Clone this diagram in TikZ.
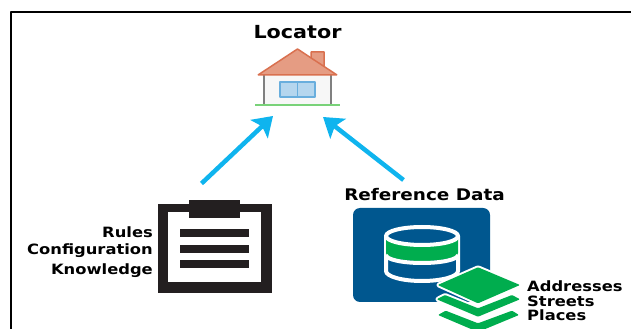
\documentclass[tikz,border=0pt]{standalone}
\usepackage{fontspec}
\setmainfont[FakeStretch=1.15]{DejaVu Sans}
\definecolor{arrowcyan}{HTML}{0FB4EE}
\definecolor{panelblue}{HTML}{00578F}
\definecolor{stackgreen}{HTML}{00AD4E}
\definecolor{roofred}{HTML}{E59C83}
\definecolor{roofedge}{HTML}{D9704F}
\definecolor{windowblue}{HTML}{B5D6EE}
\definecolor{windowedge}{HTML}{69AEDD}
\definecolor{clipblack}{HTML}{231F20}
\usetikzlibrary{arrows.meta}
\tikzset{
  labeltext/.style={inner sep=0pt,font=\bfseries\fontsize{14.2bp}{16bp}\selectfont},
  linkarrow/.style={draw=arrowcyan,line width=4.5bp,-{Stealth[length=19bp,width=25bp,inset=4bp]}},
  clipline/.style={fill=clipblack,draw=none},
  stacklayer/.style={fill=stackgreen,rounded corners=1bp,preaction={draw=white,line width=4bp,line join=round}},
  dbline/.style={white,line width=4bp},
}
\begin{document}
\begin{tikzpicture}[>=latex,line join=bevel,]
\useasboundingbox (0bp,0bp) rectangle (631bp,329bp);
%%
\draw [black,line width=2.5bp] (11bp,0bp) -- (11bp,317bp) -- (631bp,317bp);
%% house
\fill [black!3] (264bp,254bp) rectangle (331bp,224bp);
\draw [gray,line width=2.8bp] (264bp,254bp) -- (264bp,224bp);
\draw [gray,line width=2.8bp] (331bp,254bp) -- (331bp,224bp);
\draw [green!50!gray!70,line width=1.5bp] (255bp,224bp) -- (340bp,224bp);
\draw [draw=windowedge,fill=windowblue,line width=1.2bp] (280bp,247bp) rectangle (315bp,232bp);
\draw [draw=windowedge,line width=1.2bp] (297.5bp,247bp) -- (297.5bp,232bp);
\draw [draw=roofedge,fill=roofred,line width=1.5bp] (311bp,277bp) -- (324bp,277bp) -- (324bp,256bp) -- (311bp,266bp) -- cycle;
\draw [draw=roofedge,fill=roofred,line width=1.5bp] (258bp,254bp) -- (297.5bp,280bp) -- (337bp,254bp) -- cycle;
\coordinate (node_house_l) at (273bp,213bp);
\coordinate (node_house_r) at (323bp,212bp);
\node (node_locator) at (297.5bp,297bp) [labeltext,font=\bfseries\fontsize{18bp}{20bp}\selectfont] {Locator};
%% clipboard
\fill [clipblack] (158bp,125bp) rectangle (272bp,36bp);
\fill [white] (168bp,117bp) rectangle (261bp,47bp);
\fill [clipblack] (189bp,129bp) rectangle (240bp,111bp);
\fill [clipline] (180bp,100bp) rectangle (249bp,92bp);
\fill [clipline] (180bp,84bp) rectangle (249bp,76bp);
\fill [clipline] (180bp,69bp) rectangle (249bp,61bp);
\coordinate (node_clip) at (201.5bp,145.5bp);
\node (node_rules) at (153bp,97bp) [labeltext,anchor=east] {Rules};
\node (node_config) at (153bp,78bp) [labeltext,anchor=east] {Configuration};
\node (node_know) at (153bp,58.5bp) [labeltext,anchor=east] {Knowledge};
%% database
\fill [panelblue,rounded corners=7bp] (353bp,121bp) rectangle (490bp,27bp);
\draw [dbline,fill=panelblue] (386bp,93bp) -- (386bp,58bp) arc [start angle=180,end angle=360,x radius=36bp,y radius=10bp] -- (458bp,93bp);
\fill [stackgreen] (386bp,93bp) -- (386bp,76bp) arc [start angle=180,end angle=360,x radius=36bp,y radius=8bp] -- (458bp,93bp) -- cycle;
\draw [dbline] (386bp,74bp) arc [start angle=180,end angle=360,x radius=36bp,y radius=8bp];
\draw [dbline,fill=panelblue] (422bp,93bp) ellipse [x radius=36bp,y radius=9bp];
\coordinate (node_ref) at (403.5bp,149bp);
\node (node_refdata) at (424.5bp,134bp) [labeltext,font=\bfseries\fontsize{16bp}{18bp}\selectfont] {Reference Data};
%% stacked layers
\path [stacklayer] (438bp,14bp) -- (445.7bp,18.3bp) -- (478bp,5.7bp) -- (512bp,18.3bp) -- (519bp,14bp) -- (478bp,-3bp) -- cycle;
\path [stacklayer] (436.7bp,29.7bp) -- (445bp,34bp) -- (478bp,20.7bp) -- (512bp,34bp) -- (520bp,29.7bp) -- (478bp,12.3bp) -- cycle;
\path [stacklayer] (437.7bp,44bp) -- (478bp,61.7bp) -- (520bp,44bp) -- (478bp,25.7bp) -- cycle;
\node (node_addr) at (527bp,43bp) [labeltext,anchor=west] {Addresses};
\node (node_streets) at (527bp,28bp) [labeltext,anchor=west] {Streets};
\node (node_places) at (527bp,14bp) [labeltext,anchor=west] {Places};
%% arrows
\draw [linkarrow] (node_clip) -- (node_house_l);
\draw [linkarrow] (node_ref) -- (node_house_r);
%
\end{tikzpicture}
\end{document}
